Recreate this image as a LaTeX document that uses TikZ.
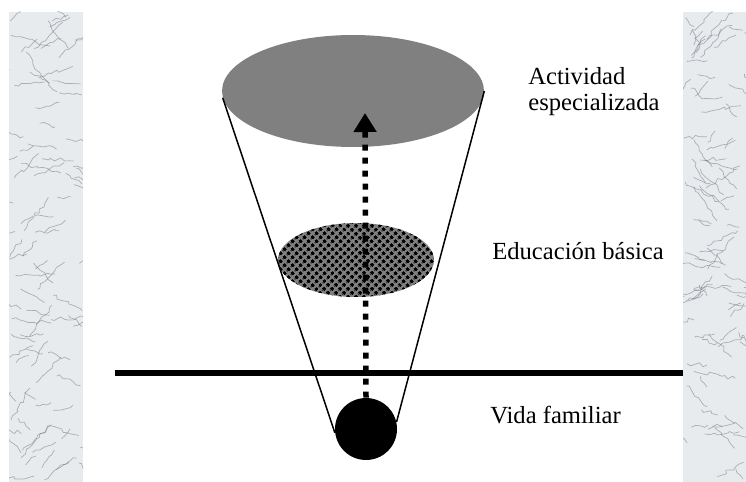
\documentclass[tikz,border=0pt]{standalone}
\usepackage{fontspec}
\setmainfont{Liberation Serif}
\usepackage{tikz}
\usetikzlibrary{shapes.geometric, arrows.meta, positioning, calc, decorations.pathmorphing, patterns.meta}
\definecolor{marble1}{RGB}{232, 235, 238}
\definecolor{vein1}{RGB}{110, 114, 120}

\tikzdeclarepattern{
  name=basicdots,
  type=uncolored,
  bounding box={(0,0) and (0.12cm,0.12cm)},
  tile size={(0.12cm,0.12cm)},
  tile transformation={rotate=45},
  code={\fill (0.06cm,0.06cm) circle (0.045cm);}
}

\begin{document}
\begin{tikzpicture}[x=0.02cm, y=-0.02cm,
    marble/.style={fill=marble1},
    vein/.style={draw=vein1, line width=0.4pt, opacity=0.5, decorate,
      decoration={random steps, segment length=2.5pt, amplitude=1.2pt}},
    rotulo/.style={font=\fontsize{14}{15}\selectfont, inner sep=0pt, anchor=base west, align=left}]
  \useasboundingbox (0,0) rectangle (746,482);
  \fill[white] (0,0) rectangle (746,482);

  % marble strips on both sides
  \foreach \xa/\xb in {9/83, 683/746}{
    \begin{scope}
      \clip (\xa,12) rectangle (\xb,482);
      \fill[marble] (\xa,12) rectangle (\xb,482);
      \pgfmathsetseed{\xa}
      \foreach \i in {1,...,90}{
        \pgfmathsetmacro{\vx}{\xa+(\xb-\xa)*rnd}
        \pgfmathsetmacro{\vy}{12+470*rnd}
        \pgfmathsetmacro{\va}{-60+120*rnd+180*(rnd>0.5)}
        \pgfmathsetmacro{\vl}{12+30*rnd}
        \draw[vein] (\vx,\vy) -- ++(\va:\vl);
      }
    \end{scope}
  }

  % the cone
  \node[ellipse, fill=black!50, minimum width=5.24cm, minimum height=2.24cm, inner sep=0pt] (cima) at (353,91) {};
  \node[ellipse, fill=black!50, minimum width=3.12cm, minimum height=1.48cm, inner sep=0pt] (educacion) at (356,260) {};
  \fill[pattern={basicdots}, pattern color=black] (educacion.center) ellipse [x radius=78, y radius=37];
  \node[circle, fill=black, minimum size=1.24cm, inner sep=0pt] (familia) at (366,429) {};

  \draw[line width=0.03cm] (cima.183) -- (familia.187);
  \draw[line width=0.03cm] (cima.east) -- (familia.13);

  \coordinate (lineaI) at (115,373);
  \coordinate (lineaD) at (683,373);
  \draw[line width=0.14cm] (lineaI) -- (lineaD);

  \coordinate (meta) at (365,113);
  \draw[line width=0.11cm, dash pattern=on 0.12cm off 0.14cm, -{Triangle[width=0.44cm, length=0.38cm]}]
    (familia.north) -- (meta);

  % labels
  \node[rotulo] (actividad) at (528,111) {Actividad\\especializada};
  \node[rotulo] (basica) at (492,260) {Educación básica};
  \node[rotulo] (vida) at (490,423) {Vida familiar};
\end{tikzpicture}
\end{document}
